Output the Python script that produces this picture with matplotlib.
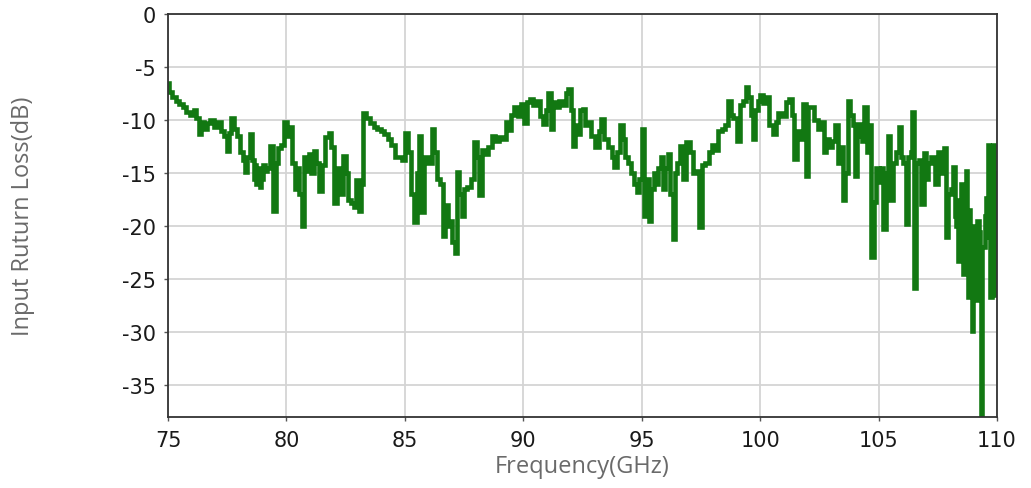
import matplotlib
matplotlib.use("Agg")
import matplotlib.pyplot as plt

# measured input return loss, frequency in GHz, loss in dB
freq_ghz = [
    75.00, 75.10, 75.25, 75.40, 75.55, 75.70, 75.85, 76.00, 76.15, 76.25,
    76.35, 76.45, 76.55, 76.70, 76.85, 77.00, 77.15, 77.30, 77.45, 77.55,
    77.62, 77.72, 77.85, 78.00, 78.10, 78.20, 78.30, 78.40, 78.50,
    78.60, 78.65, 78.70, 78.75, 78.80, 78.85, 78.90, 78.95, 79.00, 79.05, 79.10, 79.25,
    79.40, 79.50, 79.60, 79.70,
    79.85, 79.95, 80.10, 80.20, 80.30, 80.40, 80.50, 80.60, 80.70, 80.80,
    80.90, 81.00, 81.10, 81.20, 81.30, 81.45, 81.55, 81.70, 81.85, 81.95,
    82.10, 82.20, 82.30, 82.45, 82.55, 82.65, 82.80, 82.90, 83.00, 83.10,
    83.20, 83.30, 83.45, 83.60, 83.75, 83.90, 84.05, 84.20, 84.35, 84.50,
    84.65, 84.80, 84.95, 85.08, 85.20, 85.35, 85.45, 85.55, 85.65, 85.75,
    85.90, 86.05, 86.20, 86.30, 86.40, 86.55, 86.65, 86.75, 86.85, 86.95,
    87.05, 87.15, 87.25, 87.35, 87.45, 87.55, 87.70, 87.85, 87.95, 88.10,
    88.20, 88.30, 88.45, 88.60, 88.75, 88.90, 89.05, 89.20, 89.30, 89.45,
    89.55, 89.70, 89.85, 89.95, 90.10, 90.20, 90.35, 90.50, 90.65, 90.75,
    90.90, 91.00, 91.10, 91.20, 91.30, 91.45, 91.60, 91.75, 91.85, 91.95,
    92.05, 92.15, 92.25, 92.35, 92.45, 92.55, 92.65, 92.80, 92.95, 93.10,
    93.25, 93.35, 93.50, 93.65, 93.80, 93.90, 94.00, 94.15, 94.25, 94.35,
    94.50, 94.60, 94.75, 94.85, 94.95, 95.05, 95.15, 95.25, 95.35, 95.45,
    95.55, 95.65, 95.75, 95.85, 95.95, 96.05, 96.15, 96.25, 96.35, 96.45,
    96.55, 96.70, 96.80, 96.95, 97.10, 97.20, 97.35, 97.50, 97.60, 97.75,
    97.90, 98.00, 98.15, 98.30, 98.45, 98.60, 98.70, 98.80, 98.95, 99.10,
    99.20, 99.35, 99.45, 99.55, 99.65, 99.75, 99.85, 99.95, 100.05, 100.20,
    100.30, 100.45, 100.60, 100.70, 100.85, 101.00, 101.15, 101.30, 101.40, 101.50,
    101.60, 101.75, 101.90, 101.97, 102.05, 102.20, 102.35, 102.50, 102.65, 102.75,
    102.85, 103.00, 103.10, 103.25, 103.35, 103.45, 103.55, 103.65, 103.75, 103.85,
    103.95, 104.05, 104.15, 104.25, 104.35, 104.45, 104.55, 104.65, 104.75, 104.85,
    104.95, 105.05, 105.15, 105.25, 105.35, 105.45, 105.55, 105.65, 105.80, 105.90,
    106.00, 106.10, 106.20, 106.30, 106.40, 106.45, 106.52, 106.65, 106.75, 106.85,
    106.95, 107.05, 107.15, 107.30, 107.45, 107.55, 107.70, 107.80, 107.90,
    108.00, 108.10, 108.20, 108.25, 108.30, 108.35, 108.40, 108.45, 108.50, 108.55,
    108.60, 108.65, 108.70, 108.75, 108.80, 108.85, 108.90, 108.95, 109.00, 109.05,
    109.10, 109.15, 109.20, 109.25, 109.30, 109.35, 109.40, 109.45, 109.50, 109.55,
    109.60, 109.65, 109.70, 109.75, 109.80, 109.85, 109.90, 109.95, 110.00,
]

loss_db = [
    -6.5, -7.3, -7.8, -8.2, -8.5, -8.8, -9.2, -9.5, -9.0, -9.8,
    -11.3, -10.2, -10.8, -10.3, -10.0, -10.6, -10.2, -11.0, -11.5, -12.9,
    -11.2, -9.8, -10.8, -11.5, -13.0, -13.8, -14.9, -13.5, -11.3,
    -13.8, -15.5, -14.2, -16.0, -14.5, -15.8, -16.3, -14.6, -15.5, -14.2, -14.8, -14.5,
    -12.4, -18.6, -14.0, -12.6,
    -12.3, -10.2, -11.5, -10.6, -14.0, -16.5, -14.5, -17.0, -20.0, -13.5,
    -14.8, -13.2, -15.0, -12.9, -14.0, -16.7, -14.2, -11.6, -11.2, -12.5,
    -17.8, -14.5, -17.0, -13.4, -15.0, -17.5, -17.8, -18.2, -15.6, -18.6,
    -16.0, -9.3, -9.8, -10.3, -10.6, -10.8, -11.0, -11.3, -11.8, -12.3,
    -13.5, -13.5, -13.8, -11.2, -13.0, -17.0, -19.6, -15.0, -11.5, -18.7,
    -13.5, -14.0, -10.8, -13.0, -15.5, -16.0, -20.9, -18.0, -20.0, -19.5,
    -21.5, -22.5, -14.9, -17.0, -19.0, -16.5, -16.3, -15.5, -12.1, -13.5,
    -17.1, -12.8, -13.2, -12.5, -11.5, -12.0, -11.6, -11.8, -10.2, -10.9,
    -9.5, -8.8, -9.6, -8.5, -10.3, -8.3, -8.0, -8.6, -8.2, -9.6,
    -10.4, -9.0, -7.4, -10.8, -8.3, -8.8, -8.2, -8.6, -7.4, -7.1,
    -9.0, -12.4, -10.5, -11.3, -9.0, -8.9, -10.5, -10.2, -11.5, -12.5,
    -11.0, -9.9, -11.8, -12.5, -13.5, -14.4, -13.0, -10.5, -11.8, -13.5,
    -14.0, -15.0, -16.0, -16.8, -15.5, -10.8, -19.0, -15.5, -19.5, -16.5,
    -15.0, -16.0, -14.5, -13.5, -16.5, -14.5, -13.2, -17.0, -21.2, -15.0,
    -14.0, -12.4, -15.5, -12.1, -13.0, -15.0, -14.8, -20.1, -14.2, -14.0,
    -13.0, -12.3, -12.8, -11.0, -10.8, -10.5, -8.2, -9.5, -9.8, -12.0,
    -8.6, -8.2, -6.9, -7.8, -9.5, -11.8, -9.0, -8.2, -7.6, -8.4,
    -7.8, -10.5, -11.3, -10.2, -9.3, -9.6, -8.3, -8.0, -9.5, -13.7,
    -11.0, -11.8, -8.5, -15.3, -8.8, -8.8, -10.0, -10.8, -10.2, -13.0,
    -11.8, -12.5, -12.0, -10.5, -14.0, -12.5, -17.5, -15.0, -8.2, -9.5,
    -10.5, -15.3, -10.4, -11.5, -12.0, -8.8, -13.0, -10.5, -22.9, -17.7,
    -14.5, -15.8, -14.5, -20.3, -15.0, -11.5, -17.5, -14.0, -13.0, -10.6,
    -13.5, -14.0, -19.8, -13.5, -13.0, -9.2, -25.8, -14.0, -13.8, -17.9,
    -13.1, -15.5, -14.0, -13.5, -16.0, -13.0, -15.0, -12.6, -21.0,
    -17.0, -16.5, -14.4, -19.0, -20.0, -17.5, -23.3, -19.0, -16.0, -21.0,
    -24.5, -19.5, -14.8, -22.0, -26.7, -18.5, -23.0, -29.9, -21.5, -20.0,
    -24.0, -27.0, -19.5, -20.5, -24.5, -37.9, -22.0, -22.0, -19.0, -17.3,
    -21.0, -12.3, -20.5, -26.7, -19.0, -12.3, -21.0, -15.0, -26.5,
]

x_ticks = [75, 80, 85, 90, 95, 100, 105, 110]
y_ticks = [0, -5, -10, -15, -20, -25, -30, -35]

fig = plt.figure(figsize=(10.31, 4.89), dpi=100)
ax = fig.add_axes([0.163, 0.145, 0.804, 0.824])

ax.plot(freq_ghz, loss_db, drawstyle="steps-mid", color="#127812",
        lw=3.3, solid_joinstyle="miter")

ax.set_xlim(75, 110)
ax.set_ylim(-38, 0)
ax.set_xticks(x_ticks)
ax.set_yticks(y_ticks)
ax.set_xticklabels([str(t) for t in x_ticks])
ax.set_yticklabels([str(t) for t in y_ticks])

ax.grid(True, color="#d4d4d4", lw=1.3)
ax.set_axisbelow(True)
for s in ax.spines.values():
    s.set_color("#333333")
    s.set_linewidth(1.3)
ax.tick_params(direction="out", length=3, width=1, color="#555555",
               labelsize=15, labelcolor="#1a1a1a", pad=6)

ax.set_xlabel("Frequency(GHz)", fontsize=17, color="#6a6a6a",
              family="Open Sans", labelpad=3)
ax.set_ylabel("Input Ruturn Loss(dB)", fontsize=17, color="#6a6a6a",
              family="Open Sans", labelpad=62)

fig.savefig("out.png", dpi=100)
